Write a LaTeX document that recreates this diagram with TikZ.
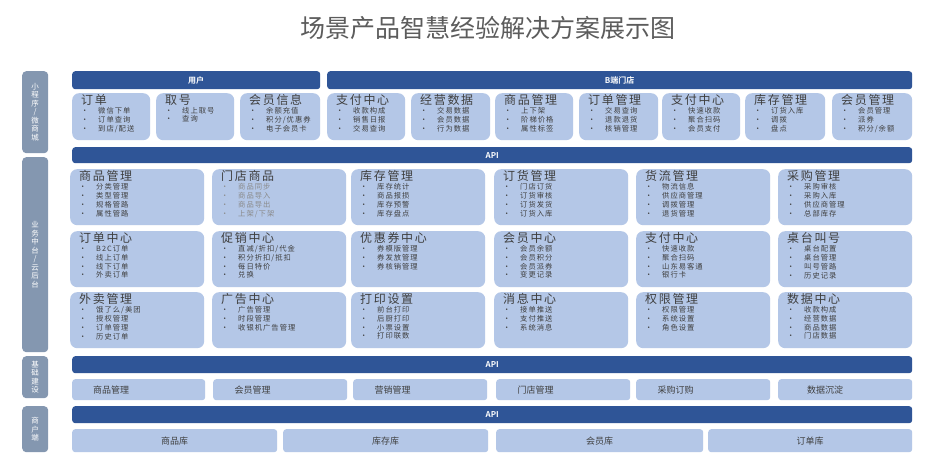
\documentclass[tikz,border=0pt]{standalone}
\usepackage{fontspec}
\setmainfont{Noto Sans CJK SC}
\newfontfamily\itemf[LetterSpace=14]{Noto Sans CJK SC}
\newfontfamily\boldf{Noto Sans CJK SC Bold}
\definecolor{dblue}{HTML}{2F5597}
\definecolor{lblue}{HTML}{B4C7E7}
\definecolor{sideg}{HTML}{8497B0}
\definecolor{txt}{HTML}{3F3F3F}
\definecolor{ltxt}{HTML}{8A8A8A}
\tikzset{
 cardbox/.style={fill=lblue,draw=none,rounded corners=7pt,inner sep=0},
 flatbox/.style={fill=lblue,draw=none,rounded corners=3pt,inner sep=0},
 bar/.style={fill=dblue,draw=none,rounded corners=3pt,inner sep=0,text=white,font=\boldf\fontsize{8}{9}\selectfont},
 side/.style={fill=sideg,draw=none,rounded corners=4pt,inner sep=0},
 sidetxt/.style={text=white,font=\fontsize{7.5}{8.5}\selectfont,align=center,text width=8pt,inner sep=0},
 cardtxt/.style={text=txt,align=left,inner sep=0,font=\itemf\fontsize{7.3}{8.8}\selectfont},
}
\newcommand\bul[1]{\makebox[17pt][l]{•}#1}
\newcommand\card[7]{%
 \node[cardbox,minimum width=#4pt,minimum height=#5pt,anchor=north west] (#1) at (#2,#3) {};
 \node[cardtxt,anchor=north west] (#1t) at ([xshift=9pt,yshift=-1.5pt]#1.north west) {{\fontsize{12}{13.5}\selectfont #6}\\#7};}
\newcommand\bbox[6]{%
 \node[flatbox,minimum width=#4pt,minimum height=#5pt,anchor=north west,text=txt,font=\fontsize{9}{10}\selectfont] (#1) at (#2,#3) {#6};}
\begin{document}
\begin{tikzpicture}[x=1pt,y=-1pt]
\useasboundingbox[fill=white] (0,0) rectangle (934,473);
\node[text=txt!85,font=\fontsize{25}{28}\selectfont] (title) at (488,28) {场景产品智慧经验解决方案展示图};
% side bars
\node[side,minimum width=26pt,minimum height=82pt,anchor=north west] (s1) at (22,71) {};
\node[sidetxt] (s1t) at (s1) {小\\程\\序\\/\\微\\商\\城};
\node[side,minimum width=26pt,minimum height=195pt,anchor=north west] (s2) at (22,157) {};
\node[sidetxt] (s2t) at (s2) {业\\务\\中\\台\\/\\云\\后\\台};
\node[side,minimum width=26pt,minimum height=42pt,anchor=north west] (s3) at (22,356) {};
\node[sidetxt] (s3t) at (s3) {基\\础\\建\\设};
\node[side,minimum width=26pt,minimum height=46pt,anchor=north west] (s4) at (22,406) {};
\node[sidetxt] (s4t) at (s4) {商\\户\\端};
% top headers
\node[bar,minimum width=248pt,minimum height=18pt,anchor=north west] (hu) at (72,71) {用户};
\node[bar,minimum width=585pt,minimum height=18pt,anchor=north west] (hb) at (327,71) {B端门店};
% row1 cards
\card{a1}{72}{93}{78}{47}{订单}{\bul{微信下单}\\\bul{订单查询}\\\bul{到店/配送}}
\card{a2}{156}{93}{78}{47}{取号}{\bul{线上取号}\\\bul{查询}}
\card{a3}{240}{93}{80}{47}{会员信息}{\bul{余额充值}\\\bul{积分/优惠券}\\\bul{电子会员卡}}
\card{a4}{327}{93}{78}{47}{支付中心}{\bul{收款构成}\\\bul{销售日报}\\\bul{交易查询}}
\card{a5}{411}{93}{79}{47}{经营数据}{\bul{交易数据}\\\bul{会员数据}\\\bul{行为数据}}
\card{a6}{495}{93}{78}{47}{商品管理}{\bul{上下架}\\\bul{阶梯价格}\\\bul{属性标签}}
\card{a7}{579}{93}{79}{47}{订单管理}{\bul{交易查询}\\\bul{退款退货}\\\bul{核销管理}}
\card{a8}{662}{93}{78}{47}{支付中心}{\bul{快速收款}\\\bul{聚合扫码}\\\bul{会员支付}}
\card{a9}{745}{93}{80}{47}{库存管理}{\bul{订货入库}\\\bul{调拨}\\\bul{盘点}}
\card{a10}{832}{93}{80}{47}{会员管理}{\bul{会员管理}\\\bul{派券}\\\bul{积分/余额}}
\node[bar,minimum width=840pt,minimum height=16pt,anchor=north west] (api1) at (72,147) {API};
% grid
\card{b1}{70}{169}{134}{56}{商品管理}{\bul{分类管理}\\\bul{类型管理}\\\bul{规格管路}\\\bul{属性管路}}
\card{b2}{212}{169}{134}{56}{门店商品}{\color{ltxt}\bul{商品同步}\\\color{ltxt}\bul{商品导入}\\\color{ltxt}\bul{商品导出}\\\color{ltxt}\bul{上架/下架}}
\card{b3}{351}{169}{134}{56}{库存管理}{\bul{库存统计}\\\bul{商品报损}\\\bul{库存预警}\\\bul{库存盘点}}
\card{b4}{494}{169}{134}{56}{订货管理}{\bul{门店订货}\\\bul{订货审核}\\\bul{订货发货}\\\bul{订货入库}}
\card{b5}{636}{169}{134}{56}{货流管理}{\bul{物流信息}\\\bul{供应商管理}\\\bul{调拨管理}\\\bul{退货管理}}
\card{b6}{778}{169}{134}{56}{采购管理}{\bul{采购审核}\\\bul{采购入库}\\\bul{供应商管理}\\\bul{总部库存}}
\card{c1}{70}{231}{134}{56}{订单中心}{\bul{B2C订单}\\\bul{线上订单}\\\bul{线下订单}\\\bul{外卖订单}}
\card{c2}{212}{231}{134}{56}{促销中心}{\bul{直减/折扣/代金}\\\bul{积分折扣/抵扣}\\\bul{每日特价}\\\bul{兑换}}
\card{c3}{351}{231}{134}{56}{优惠券中心}{\bul{券模版管理}\\\bul{券发放管理}\\\bul{券核销管理}}
\card{c4}{494}{231}{134}{56}{会员中心}{\bul{会员余额}\\\bul{会员积分}\\\bul{会员派券}\\\bul{变更记录}}
\card{c5}{636}{231}{134}{56}{支付中心}{\bul{快速收款}\\\bul{聚合扫码}\\\bul{山东易客通}\\\bul{银行卡}}
\card{c6}{778}{231}{134}{56}{桌台叫号}{\bul{桌台配置}\\\bul{桌台管理}\\\bul{叫号管路}\\\bul{历史记录}}
\card{d1}{70}{292}{134}{56}{外卖管理}{\bul{饿了么/美团}\\\bul{授权管理}\\\bul{订单管理}\\\bul{历史订单}}
\card{d2}{212}{292}{134}{56}{广告中心}{\bul{广告管理}\\\bul{时段管理}\\\bul{收银机广告管理}}
\card{d3}{351}{292}{134}{56}{打印设置}{\bul{前台打印}\\\bul{后厨打印}\\\bul{小票设置}\\\bul{打印联数}}
\card{d4}{494}{292}{134}{56}{消息中心}{\bul{接单推送}\\\bul{支付推送}\\\bul{系统消息}}
\card{d5}{636}{292}{134}{56}{权限管理}{\bul{权限管理}\\\bul{系统设置}\\\bul{角色设置}}
\card{d6}{778}{292}{134}{56}{数据中心}{\bul{收款构成}\\\bul{经营数据}\\\bul{商品数据}\\\bul{门店数据}}
% base
\node[bar,minimum width=840pt,minimum height=17pt,anchor=north west] (api2) at (72,356) {API};
\bbox{e1}{72}{379}{133}{21}{\raisebox{-3pt}{\hspace*{-55pt}商品管理}}
\bbox{e2}{213}{379}{134}{21}{\hspace*{-55pt}会员管理}
\bbox{e3}{353}{379}{134}{21}{\hspace*{-55pt}营销管理}
\bbox{e4}{496}{379}{134}{21}{\hspace*{-55pt}门店管理}
\bbox{e5}{636}{379}{134}{21}{\hspace*{-55pt}采购订购}
\bbox{e6}{778}{379}{134}{21}{\hspace*{-40pt}数据沉淀}
\node[bar,minimum width=840pt,minimum height=17pt,anchor=north west] (api3) at (72,406) {API};
\bbox{f1}{72}{429}{205}{23}{商品库}
\bbox{f2}{283}{429}{205}{23}{库存库}
\bbox{f3}{496}{429}{207}{23}{会员库}
\bbox{f4}{708}{429}{204}{23}{订单库}
\end{tikzpicture}
\end{document}
